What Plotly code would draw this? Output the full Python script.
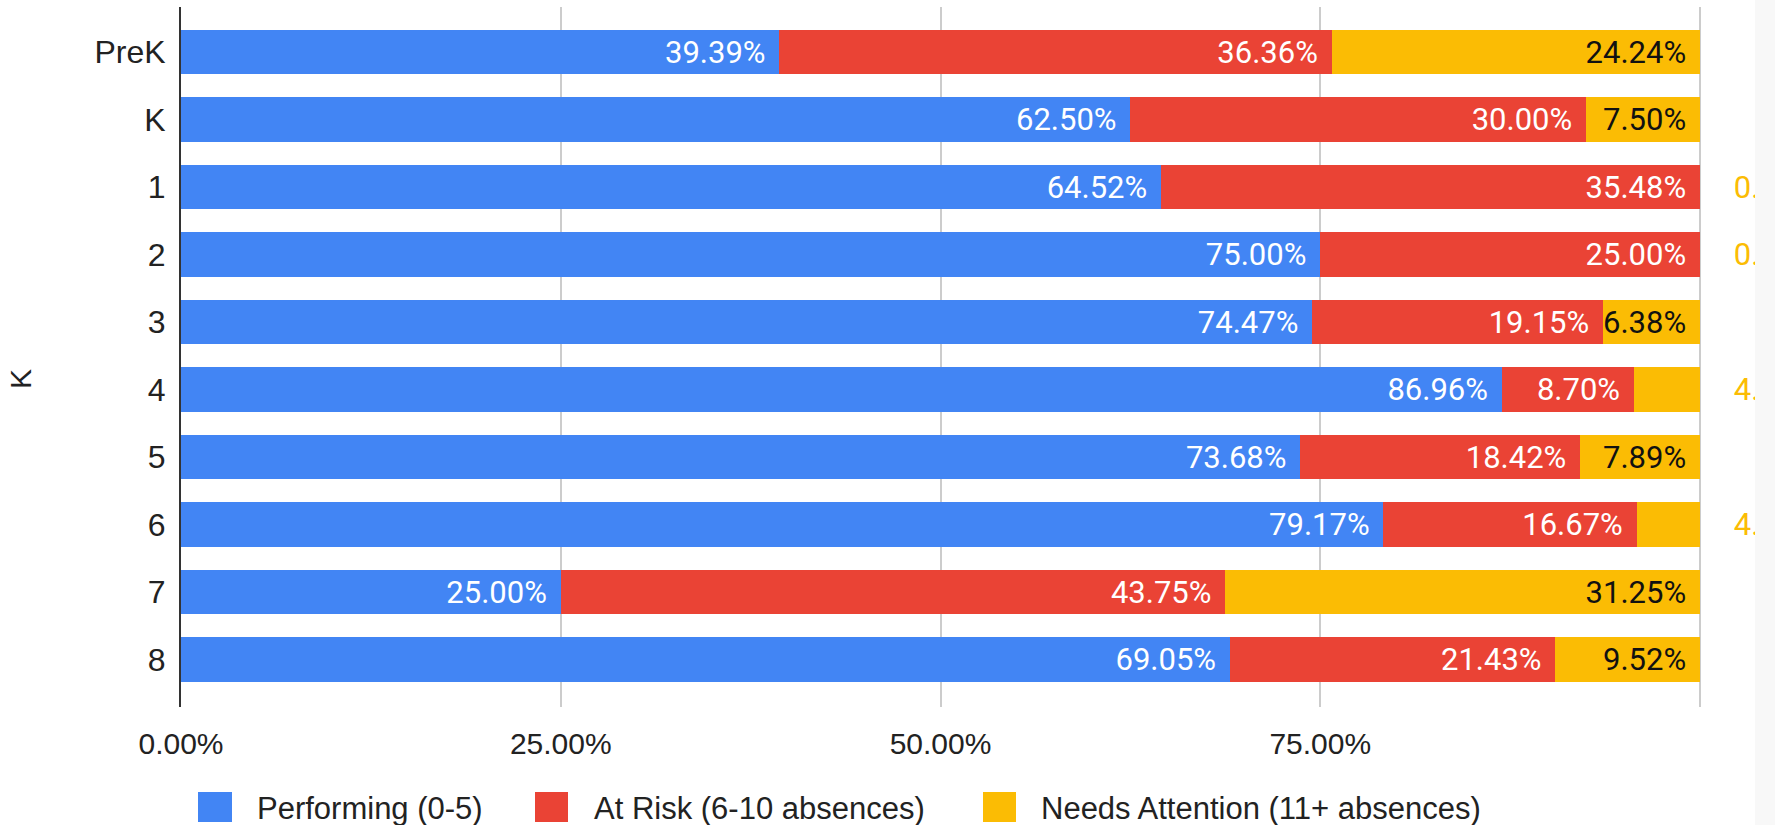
import plotly.graph_objects as go

# ---------------------------------------------------------------
# Data: share of students per attendance band, by grade (in %)
# ---------------------------------------------------------------
grades = ["PreK", "K", "1", "2", "3", "4", "5", "6", "7", "8"]
performing = [39.39, 62.50, 64.52, 75.00, 74.47, 86.96, 73.68, 79.17, 25.00, 69.05]
at_risk = [36.36, 30.00, 35.48, 25.00, 19.15, 8.70, 18.42, 16.67, 43.75, 21.43]
needs_attention = [24.24, 7.50, 0.00, 0.00, 6.38, 4.35, 7.89, 4.17, 31.25, 9.52]

series_names = ["Performing (0-5)", "At Risk (6-10 absences)", "Needs Attention (11+ absences)"]
series_colors = ["#4285F4", "#EA4335", "#FBBC04"]
label_colors = ["white", "white", "#111111"]

x_tick_vals = [0, 25, 50, 75, 100]
x_tick_text = ["0.00%", "25.00%", "50.00%", "75.00%", ""]
y_title = "K"

# ---------------------------------------------------------------
# Geometry (pixels)
# ---------------------------------------------------------------
W, H = 1775, 825
L, R, T, B = 181, 20, 7, 118
PW, PH = W - L - R, H - T - B
X100 = 1700  # pixel position of 100 %

def px(x):
    return (x - L) / PW

def py(y):
    return (H - B - y) / PH

NB = "\u00a0"
AXIS_FONT = "Arial, Liberation Sans, sans-serif"
LABEL_FONT = "Roboto, Arial, sans-serif"

fig = go.Figure()

for i, (name, vals) in enumerate(zip(series_names, [performing, at_risk, needs_attention])):
    last = i == 2
    pos, txt, cols = [], [], []
    for v in vals:
        if last and v < 5:
            pos.append("outside")
            txt.append(f"{NB * 4}{v:.2f}%")
            cols.append(series_colors[2])
        else:
            pos.append("inside")
            txt.append(f"{v:.2f}%{NB}\u200a")
            cols.append(label_colors[i])
    fig.add_trace(go.Bar(
        y=grades,
        x=vals,
        name=name,
        orientation="h",
        marker=dict(color=series_colors[i], line=dict(width=0)),
        text=txt,
        textposition=pos,
        insidetextanchor="end",
        textangle=0,
        constraintext="none",
        textfont=dict(family=LABEL_FONT, size=31, color=cols),
        cliponaxis=True,
        showlegend=False,
        hoverinfo="skip",
    ))

# custom legend (big squares like the original)
shapes = []
annotations = []
legend_items = [(198, 232, 255), (535, 568, 592), (983, 1016, 1039)]
for (x0, x1, tx), name, color in zip(legend_items, series_names, series_colors):
    shapes.append(dict(type="rect", xref="paper", yref="paper",
                       x0=px(x0), x1=px(x1), y0=py(822), y1=py(792),
                       fillcolor=color, line=dict(width=0)))
    annotations.append(dict(text=name, xref="paper", yref="paper",
                            x=px(tx), y=py(808), xanchor="left", yanchor="middle",
                            showarrow=False,
                            font=dict(family=AXIS_FONT, size=31, color="#222222")))

# light strip at the right edge of the screenshot
shapes.append(dict(type="rect", xref="paper", yref="paper",
                   x0=1.0, x1=1.05, y0=-0.3, y1=1.1,
                   fillcolor="#F8F8F8", line=dict(width=0), layer="above"))

# y axis title
annotations.append(dict(text=y_title, xref="paper", yref="paper",
                        x=px(21), y=py(379), xanchor="center", yanchor="middle",
                        textangle=-90, showarrow=False,
                        font=dict(family=AXIS_FONT, size=30, color="#222222")))

fig.update_layout(
    barmode="stack",
    barnorm="percent",
    bargap=0.34,
    width=W,
    height=H,
    margin=dict(l=L, r=R, t=T, b=B, pad=0),
    plot_bgcolor="white",
    paper_bgcolor="white",
    xaxis=dict(
        range=[0, 100 * (W - R - L) / (X100 - L)],
        tickvals=x_tick_vals,
        ticktext=x_tick_text,
        showgrid=True,
        gridcolor="#CCCCCC",
        gridwidth=2,
        zeroline=False,
        showline=False,
        ticks="",
        ticklabelstandoff=16,
        tickfont=dict(family=AXIS_FONT, size=30, color="#222222"),
        fixedrange=True,
    ),
    yaxis=dict(
        type="category",
        categoryorder="array",
        categoryarray=grades,
        range=[9.70, -0.667],
        showgrid=False,
        zeroline=False,
        showline=True,
        linecolor="#333333",
        linewidth=2,
        ticks="",
        ticklabelstandoff=7,
        tickfont=dict(family=AXIS_FONT, size=32, color="#222222"),
        fixedrange=True,
    ),
    shapes=shapes,
    annotations=annotations,
)

# the page's default body margin would shift the figure by 8px
fig.write_html("out.html", config={"displayModeBar": False},
               post_script="document.body.style.margin='0';")
